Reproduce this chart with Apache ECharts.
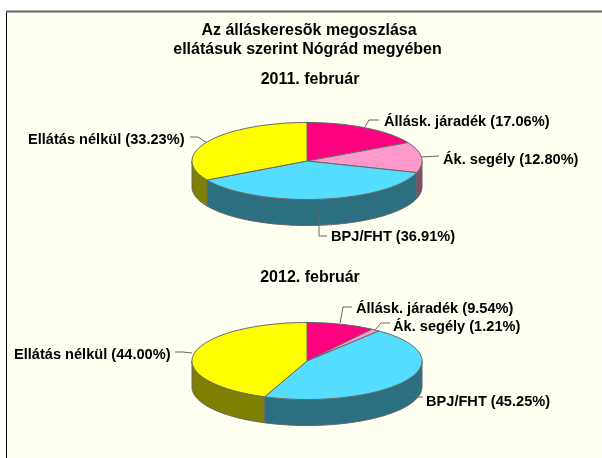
<!DOCTYPE html>
<html>
<head>
<meta charset="utf-8">
<style>
    html, body { margin: 0; padding: 0; background: #fff; }
    #chart { width: 602px; height: 458px; }
</style>
<script src="https://cdn.jsdelivr.net/npm/echarts@6/dist/echarts.min.js"></script>
</head>
<body>
<div id="chart"></div>
<script>
// adatok
const categories = ['Állásk. járadék', 'Ák. segély', 'BPJ/FHT', 'Ellátás nélkül']
const values2011 = [17.06, 12.80, 36.91, 33.23]
const values2012 = [9.54, 1.21, 45.25, 44.00]
const titleLines = ['Az álláskeresõk megoszlása', 'ellátásuk szerint Nógrád megyében']
const periods = ['2011. február', '2012. február']

// szinek: felso lap, oldalfal
const topColors = ['#ff0080', '#ff99cc', '#55ddff', '#ffff00']
const sideColors = ['#800040', '#804d66', '#2b6f80', '#808000']
const edgeColor = '#666666'
const fontFamily = '"Liberation Sans", Arial, sans-serif'

// a ket torta elhelyezese
const pie2011 = { cx: 307, cy: 161, rx: 115, ry: 38.5, depth: 26 }
const pie2012 = { cx: 307, cy: 361, rx: 115, ry: 38.5, depth: 26 }

// vezetovonalak es cimkek kategoriankent
const leaders2011 = [
    { line: [[365, 127], [369, 120], [379, 120]], label: [384, 122], align: 'left' },
    { line: [[421, 157], [439, 156]], label: [443, 160], align: 'left' },
    { line: [[319, 212], [319, 236], [327, 236]], label: [331, 237], align: 'left' },
    { line: [[206, 142], [198, 137], [190, 137]], label: [184.5, 140], align: 'right' }
]
const leaders2012 = [
    { line: [[340, 323], [343, 307], [352, 307]], label: [356, 309], align: 'left' },
    { line: [[375, 330], [381, 323], [390, 323]], label: [393, 327], align: 'left' },
    { line: [[407, 393], [418, 397], [423, 397]], label: [426, 402], align: 'left' },
    { line: [[192, 353], [183, 352], [175, 352]], label: [170.5, 355], align: 'right' }
]

// ellipszis pont: a szog 12 oratol, oramutato jarasaval
function rimPoint(pie, a) {
    return [pie.cx + pie.rx * Math.sin(a), pie.cy - pie.ry * Math.cos(a)]
}

function arcPoints(pie, from, to) {
    const pts = []
    const steps = Math.max(2, Math.ceil((to - from) / 0.03))
    for (let i = 0; i <= steps; i++) {
        pts.push(rimPoint(pie, from + (to - from) * i / steps))
    }
    return pts
}

function makeSeries(pie, values, leaders) {
    let sum = 0
    const rows = values.map((v, i) => {
        const row = [v, sum, i]
        sum += v
        return row
    })
    return {
        type: 'custom',
        coordinateSystem: 'none',
        silent: true,
        animation: false,
        data: rows,
        renderItem: function (params, api) {
            const i = api.value(2)
            const from = api.value(1) / 100 * Math.PI * 2
            const to = from + api.value(0) / 100 * Math.PI * 2
            const children = []

            // oldalfal csak az eloreneto felen
            const sideFrom = Math.max(from, Math.PI / 2)
            const sideTo = Math.min(to, Math.PI * 1.5)
            if (sideTo > sideFrom) {
                const upper = arcPoints(pie, sideFrom, sideTo)
                const lower = upper.map(p => [p[0], p[1] + pie.depth]).reverse()
                children.push({
                    type: 'polygon',
                    shape: { points: upper.concat(lower) },
                    style: { fill: sideColors[i], stroke: edgeColor, lineWidth: 1 }
                })
            }

            // felso lap
            children.push({
                type: 'polygon',
                shape: { points: [[pie.cx, pie.cy]].concat(arcPoints(pie, from, to)) },
                style: { fill: topColors[i], stroke: edgeColor, lineWidth: 1 }
            })

            // vezetovonal es cimke
            const lead = leaders[i]
            children.push({
                type: 'polyline',
                z2: 10,
                shape: { points: lead.line },
                style: { fill: null, stroke: edgeColor, lineWidth: 1 }
            })
            children.push({
                type: 'text',
                z2: 11,
                style: {
                    x: lead.label[0],
                    y: lead.label[1],
                    text: categories[i] + ' (' + api.value(0).toFixed(2) + '%)',
                    align: lead.align,
                    verticalAlign: 'middle',
                    fill: '#000',
                    font: 'bold 14.6px ' + fontFamily
                }
            })
            return { type: 'group', children: children }
        }
    }
}

// cimsorok
function titleText(text, x, y) {
    return {
        type: 'text',
        silent: true,
        z: 5,
        style: {
            x: x,
            y: y,
            text: text,
            align: 'center',
            verticalAlign: 'middle',
            fill: '#000',
            font: 'bold 16px ' + fontFamily
        }
    }
}

const myChart = echarts.init(document.getElementById('chart'))
myChart.setOption({
    backgroundColor: '#fff',
    animation: false,
    graphic: [
        {
            type: 'rect',
            z: -10,
            silent: true,
            shape: { x: 7, y: 12, width: 600, height: 450 },
            style: { fill: '#fffff2', stroke: null }
        },
        {
            type: 'line',
            z: -9,
            silent: true,
            shape: { x1: 6.5, y1: 12, x2: 6.5, y2: 458 },
            style: { stroke: '#000', lineWidth: 1 }
        },
        {
            type: 'line',
            z: -9,
            silent: true,
            shape: { x1: 6, y1: 11.5, x2: 602, y2: 11.5 },
            style: { stroke: '#666', lineWidth: 2 }
        },
        titleText(titleLines[0], 309, 31),
        titleText(titleLines[1], 307.5, 50),
        titleText(periods[0], 310, 80),
        titleText(periods[1], 310, 278)
    ],
    series: [
        makeSeries(pie2011, values2011, leaders2011),
        makeSeries(pie2012, values2012, leaders2012)
    ]
})

window.addEventListener('resize', () => {
    myChart.resize()
})
</script>
</body>
</html>
